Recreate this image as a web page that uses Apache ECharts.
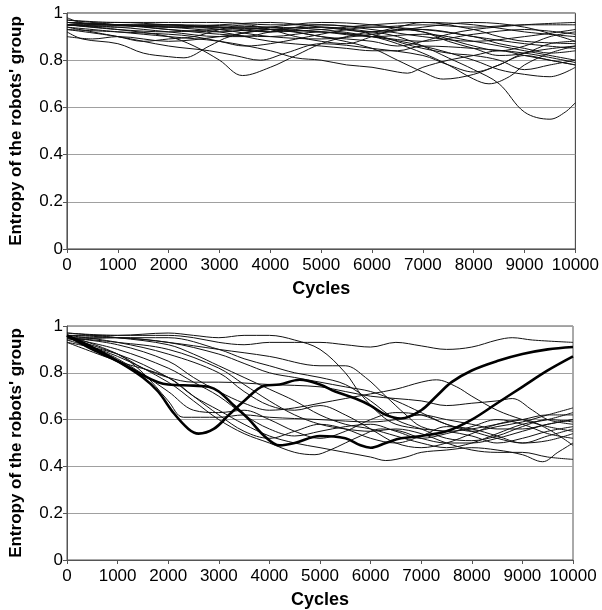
<!DOCTYPE html>
<html><head><meta charset="utf-8">
<script src="https://cdn.jsdelivr.net/npm/echarts@6/dist/echarts.min.js"></script>
<style>html,body{margin:0;padding:0;background:#fff}#c{width:602px;height:610px}</style>
</head><body><div id="c"></div>
<script>
// x tick labels / y tick labels
const cycleTicks = [0,1000,2000,3000,4000,5000,6000,7000,8000,9000,10000];
const entropyTicks = [0,0.2,0.4,0.6,0.8,1];

// ---- Top panel: 20 runs, [cycle, entropy] ----
const topA = [[0,0.95],[1000,0.93],[2000,0.92],[3000,0.93],[4000,0.92],[5000,0.94],[6000,0.92],[6500,0.9],[7000,0.86],[7500,0.81],[8000,0.76],[8500,0.7],[9000,0.58],[9500,0.55],[9800,0.58],[10000,0.62]];
const topB = [[0,0.95],[1000,0.93],[2000,0.9],[2500,0.86],[3000,0.8],[3450,0.735],[4000,0.77],[4500,0.82],[5000,0.87],[5500,0.9],[6000,0.92],[7000,0.93],[8000,0.9],[9000,0.87],[10000,0.85]];
const topC = [[0,0.92],[300,0.89],[1000,0.87],[1500,0.83],[2000,0.815],[2300,0.81],[2800,0.86],[3200,0.9],[4000,0.93],[5000,0.92],[6000,0.9],[7000,0.91],[8000,0.88],[9000,0.84],[10000,0.8]];
const topD = [[0,0.93],[1000,0.9],[2000,0.86],[2800,0.84],[3300,0.82],[3800,0.8],[4300,0.83],[5000,0.87],[6000,0.85],[7000,0.82],[7500,0.78],[8000,0.75],[8500,0.78],[9000,0.83],[10000,0.86]];
const topE = [[0,0.94],[1000,0.92],[2000,0.9],[3000,0.88],[4000,0.84],[4500,0.81],[5000,0.8],[5500,0.78],[6000,0.77],[6500,0.75],[6700,0.745],[7000,0.77],[7500,0.8],[8000,0.82],[8500,0.84],[9000,0.82],[9500,0.8],[10000,0.78]];
const topF = [[0,0.96],[2000,0.94],[4000,0.93],[5000,0.9],[6000,0.85],[6500,0.8],[7000,0.75],[7400,0.72],[8000,0.74],[8500,0.78],[9000,0.82],[9500,0.8],[10000,0.78]];
const topG = [[0,0.95],[2000,0.95],[4000,0.94],[5000,0.93],[6000,0.9],[6500,0.87],[7000,0.83],[7500,0.78],[8000,0.72],[8300,0.7],[8700,0.73],[9000,0.78],[9500,0.83],[10000,0.86]];
const topH = [[0,0.95],[3000,0.94],[5000,0.92],[6000,0.9],[7000,0.86],[8000,0.8],[8500,0.76],[9000,0.74],[9500,0.73],[10000,0.77]];
const topI = [[0,0.96],[1000,0.95],[2000,0.94],[3000,0.92],[4000,0.88],[5000,0.86],[5500,0.85],[6000,0.84],[6500,0.84],[7000,0.86],[8000,0.85],[9000,0.83],[10000,0.79]];
const topJ = [[0,0.97],[1000,0.96],[2000,0.96],[3000,0.96],[4000,0.95],[5000,0.95],[6000,0.94],[7000,0.95],[8000,0.94],[9000,0.95],[10000,0.95]];
const topK = [[0,0.96],[1000,0.95],[2000,0.94],[3000,0.95],[4000,0.96],[5000,0.94],[6000,0.92],[6500,0.94],[7000,0.96],[8000,0.95],[9000,0.92],[10000,0.9]];
const topL = [[0,0.95],[1000,0.94],[2000,0.92],[3000,0.9],[3500,0.9],[4000,0.92],[5000,0.95],[6000,0.93],[7000,0.9],[8000,0.88],[9000,0.9],[10000,0.93]];
const topM = [[0,0.94],[1000,0.9],[1500,0.88],[2000,0.89],[2500,0.9],[3000,0.93],[3500,0.95],[4000,0.93],[4500,0.9],[5000,0.88],[5500,0.87],[6000,0.9],[6500,0.93],[7000,0.92],[7500,0.88],[8000,0.85],[8500,0.82],[9000,0.83],[9500,0.87],[10000,0.88]];
const topN = [[0,0.96],[1000,0.95],[2000,0.95],[3000,0.94],[4000,0.94],[4500,0.92],[5000,0.9],[6000,0.88],[6500,0.86],[7000,0.88],[7500,0.91],[8000,0.93],[9000,0.95],[10000,0.96]];
const topO = [[0,0.98],[500,0.95],[1000,0.95],[2000,0.93],[3000,0.92],[4000,0.94],[5000,0.96],[6000,0.95],[7000,0.92],[7500,0.89],[8000,0.86],[8500,0.84],[9000,0.86],[9500,0.9],[10000,0.92]];
const topP = [[0,0.93],[1000,0.92],[2000,0.91],[2500,0.9],[3000,0.88],[3500,0.86],[4000,0.87],[5000,0.91],[5500,0.93],[6000,0.94],[7000,0.93],[8000,0.9],[8500,0.87],[9000,0.85],[9500,0.83],[10000,0.84]];
const topQ = [[0,0.95],[1000,0.96],[2000,0.95],[3000,0.94],[4000,0.92],[5000,0.93],[6000,0.95],[7000,0.96],[8000,0.93],[8500,0.9],[9000,0.88],[10000,0.87]];
const topR = [[0,0.97],[1000,0.95],[2000,0.93],[3000,0.91],[4000,0.9],[5000,0.92],[6000,0.9],[7000,0.88],[8000,0.91],[9000,0.93],[10000,0.91]];
const topS = [[0,0.95],[1000,0.94],[2000,0.95],[3000,0.93],[4000,0.9],[5000,0.89],[6000,0.91],[7000,0.94],[8000,0.96],[9000,0.94],[10000,0.88]];
const topT = [[0,0.9],[500,0.89],[1000,0.9],[2000,0.88],[3000,0.9],[4000,0.93],[5000,0.94],[6000,0.91],[6800,0.86],[7500,0.83],[8000,0.82],[8500,0.8],[9000,0.76],[9500,0.78],[10000,0.8]];

// ---- Bottom panel: thick runs ----
const botThick1 = [[0,0.96],[500,0.9],[1000,0.85],[1500,0.79],[1800,0.76],[2000,0.75],[2500,0.745],[2800,0.74],[3000,0.72],[3300,0.66],[3600,0.6],[3900,0.53],[4200,0.49],[4500,0.5],[5000,0.53],[5500,0.52],[5800,0.49],[6000,0.48],[6300,0.5],[6600,0.52],[7000,0.53],[7500,0.55],[8000,0.6],[8500,0.67],[9000,0.74],[9500,0.81],[10000,0.87]];
const botThick2 = [[0,0.96],[500,0.91],[1000,0.85],[1500,0.78],[1800,0.72],[2100,0.63],[2400,0.56],[2600,0.54],[2900,0.56],[3200,0.62],[3500,0.68],[3900,0.745],[4200,0.75],[4600,0.77],[5000,0.75],[5300,0.72],[5700,0.69],[6000,0.66],[6300,0.62],[6600,0.605],[7000,0.64],[7300,0.7],[7600,0.76],[8000,0.81],[8500,0.85],[9000,0.88],[9500,0.9],[10000,0.91]];
// ---- Bottom panel: thin runs ----
const botU1 = [[0,0.97],[1000,0.96],[2000,0.96],[2500,0.95],[3000,0.93],[3500,0.92],[4000,0.93],[4500,0.93],[5000,0.93],[5500,0.92],[6000,0.91],[6500,0.93],[7000,0.915],[7500,0.9],[8000,0.91],[8500,0.94],[8800,0.95],[9200,0.94],[10000,0.93]];
const botU2 = [[0,0.96],[1000,0.96],[2000,0.97],[2500,0.96],[3000,0.95],[3500,0.96],[4000,0.96],[4500,0.94],[5000,0.9],[5500,0.8],[5800,0.71],[6200,0.62],[6500,0.58],[7000,0.56],[7500,0.55],[8000,0.53],[8500,0.5],[9000,0.52],[9500,0.55],[10000,0.57]];
const botU3 = [[0,0.95],[1000,0.95],[2000,0.93],[3000,0.9],[4000,0.87],[5000,0.83],[5500,0.83],[5900,0.78],[6300,0.7],[6700,0.62],[7000,0.57],[7500,0.55],[8000,0.56],[8500,0.58],[9000,0.6],[9500,0.62],[10000,0.62]];
const botU4 = [[0,0.95],[1000,0.92],[2000,0.85],[2500,0.78],[3000,0.72],[3500,0.67],[4000,0.64],[4500,0.65],[5000,0.67],[5500,0.69],[6000,0.71],[6500,0.73],[7000,0.76],[7300,0.77],[7700,0.74],[8000,0.7],[8500,0.64],[9000,0.6],[9500,0.57],[10000,0.55]];
const botU5 = [[0,0.95],[1000,0.88],[1500,0.82],[2000,0.78],[2500,0.76],[3000,0.76],[4000,0.75],[5000,0.74],[5500,0.72],[6000,0.7],[6500,0.69],[7000,0.68],[7500,0.66],[8000,0.67],[8500,0.68],[8800,0.69],[9200,0.64],[9500,0.6],[10000,0.58]];
const botU6 = [[0,0.93],[1000,0.88],[2000,0.78],[2500,0.7],[3000,0.64],[3500,0.58],[4000,0.53],[4500,0.5],[5000,0.48],[5500,0.46],[6000,0.44],[6300,0.425],[6700,0.44],[7000,0.46],[7500,0.47],[8000,0.48],[8500,0.47],[9000,0.45],[9400,0.42],[9700,0.46],[10000,0.5]];
const botU7 = [[0,0.94],[1000,0.87],[2000,0.76],[2500,0.68],[3000,0.6],[3500,0.54],[4000,0.5],[4500,0.46],[4900,0.45],[5200,0.47],[5500,0.5],[5800,0.53],[6200,0.56],[6600,0.55],[7000,0.52],[7500,0.5],[8000,0.5],[8500,0.52],[9000,0.55],[9500,0.58],[10000,0.6]];
const botU8 = [[0,0.95],[1000,0.93],[2000,0.9],[3000,0.82],[3500,0.75],[4000,0.68],[4500,0.62],[5000,0.58],[5500,0.56],[6000,0.55],[6500,0.56],[7000,0.54],[7500,0.5],[8000,0.47],[8500,0.46],[9000,0.46],[9500,0.44],[10000,0.43]];
const botU9 = [[0,0.96],[1000,0.88],[1500,0.8],[2000,0.68],[2300,0.61],[3000,0.61],[3500,0.62],[4000,0.61],[5000,0.6],[6000,0.59],[6500,0.6],[7000,0.62],[7500,0.6],[8000,0.58],[8500,0.56],[9000,0.56],[9500,0.58],[10000,0.6]];
const botU10 = [[0,0.95],[1000,0.86],[2000,0.72],[2500,0.64],[3000,0.63],[3500,0.64],[4000,0.6],[4500,0.55],[5000,0.52],[5500,0.55],[6000,0.6],[6500,0.63],[7000,0.62],[7500,0.58],[8000,0.55],[8500,0.52],[9000,0.5],[9500,0.53],[10000,0.56]];
const botU11 = [[0,0.97],[1000,0.95],[2000,0.92],[2500,0.88],[3000,0.83],[3500,0.78],[4000,0.73],[4500,0.68],[5000,0.62],[5500,0.58],[6000,0.56],[6500,0.53],[7000,0.5],[7500,0.48],[8000,0.5],[8500,0.54],[9000,0.58],[9500,0.6],[10000,0.63]];
const botU12 = [[0,0.96],[1000,0.95],[2000,0.93],[3000,0.88],[3500,0.84],[4000,0.8],[4500,0.78],[5000,0.76],[5500,0.74],[6000,0.72],[6500,0.68],[7000,0.63],[7500,0.58],[8000,0.55],[8500,0.57],[9000,0.59],[9500,0.62],[10000,0.65]];
const botU13 = [[0,0.95],[1000,0.9],[2000,0.82],[2500,0.76],[3000,0.7],[3500,0.62],[4000,0.56],[4500,0.53],[5000,0.55],[5500,0.57],[6000,0.58],[6500,0.55],[7000,0.52],[7500,0.54],[8000,0.57],[8500,0.6],[9000,0.58],[9500,0.54],[10000,0.52]];
const botU14 = [[0,0.96],[1000,0.93],[2000,0.88],[3000,0.8],[3500,0.72],[4000,0.66],[4500,0.64],[5000,0.66],[5500,0.62],[6000,0.56],[6500,0.5],[7000,0.48],[7500,0.5],[8000,0.54],[8500,0.58],[9000,0.6],[9500,0.56],[10000,0.49]];
const botU15 = [[0,0.94],[1000,0.95],[2000,0.95],[3000,0.9],[3500,0.86],[4000,0.83],[4500,0.8],[5000,0.78],[5500,0.75],[6000,0.68],[6500,0.6],[7000,0.56],[7500,0.52],[8000,0.51],[8500,0.53],[9000,0.57],[9500,0.6],[10000,0.59]];
const botU16 = [[0,0.93],[1000,0.85],[2000,0.78],[2500,0.7],[3000,0.62],[3500,0.55],[4000,0.52],[4500,0.55],[5000,0.58],[5500,0.56],[6000,0.52],[6500,0.5],[7000,0.53],[7500,0.57],[8000,0.56],[8500,0.53],[9000,0.5],[9500,0.51],[10000,0.54]];

const topRuns = [topA,topB,topC,topD,topE,topF,topG,topH,topI,topJ,topK,topL,topM,topN,topO,topP,topQ,topR,topS,topT];
const botThinRuns = [botU1,botU2,botU3,botU4,botU5,botU6,botU7,botU8,botU9,botU10,botU11,botU12,botU13,botU14,botU15,botU16];
const botThickRuns = [botThick1,botThick2];

const FONT = '"Liberation Sans", Arial, sans-serif';
function xAx(idx){
  return {type:'value', gridIndex:idx, min:cycleTicks[0], max:cycleTicks[cycleTicks.length-1], interval:1000,
    name:'Cycles', nameLocation:'middle', nameGap:31,
    nameTextStyle:{fontFamily:FONT, fontSize:18, fontWeight:'bold', color:'#000'},
    axisLine:{show:true, lineStyle:{color:'#555', width:1}},
    axisTick:{show:true, length:4, lineStyle:{color:'#555'}},
    axisLabel:{fontFamily:FONT, fontSize:17, color:'#000', margin:8, formatter:v=>String(v)},
    splitLine:{show:false}};
}
function yAx(idx){
  return {type:'value', gridIndex:idx, min:entropyTicks[0], max:entropyTicks[entropyTicks.length-1], interval:0.2,
    name:"Entropy of the robots' group", nameLocation:'middle', nameGap:42,
    nameTextStyle:{fontFamily:FONT, fontSize:17, fontWeight:'bold', color:'#000'},
    axisLine:{show:true, lineStyle:{color:'#555', width:1}},
    axisTick:{show:true, length:4, lineStyle:{color:'#555'}},
    axisLabel:{fontFamily:FONT, fontSize:17, color:'#000', margin:4, formatter:v=>String(v)},
    splitLine:{show:true, lineStyle:{color:'#a0a0a0', width:1}}};
}
const series = [];
topRuns.forEach((d,i)=>series.push({type:'line', xAxisIndex:0, yAxisIndex:0, data:d, symbol:'none', smooth:0.35,
  lineStyle:{color:'#111', width:1}, silent:true}));
botThinRuns.forEach((d,i)=>series.push({type:'line', xAxisIndex:1, yAxisIndex:1, data:d, symbol:'none', smooth:0.35,
  lineStyle:{color:'#111', width:1}, silent:true}));
botThickRuns.forEach((d,i)=>series.push({type:'line', xAxisIndex:1, yAxisIndex:1, data:d, symbol:'none', smooth:0.35,
  lineStyle:{color:'#000', width:2.6}, silent:true}));

const chart = echarts.init(document.getElementById('c'), null, {renderer:'canvas'});
chart.setOption({
  animation:false,
  backgroundColor:'#fff',
  grid:[
    {left:64, top:13, width:512, height:236, show:true, borderColor:'#333', borderWidth:1, backgroundColor:'transparent'},
    {left:64, top:326, width:509, height:235, show:true, borderColor:'#555', borderWidth:1, backgroundColor:'transparent'}
  ],
  xAxis:[xAx(0), xAx(1)],
  yAxis:[yAx(0), yAx(1)],
  series: series
});
</script></body></html>
